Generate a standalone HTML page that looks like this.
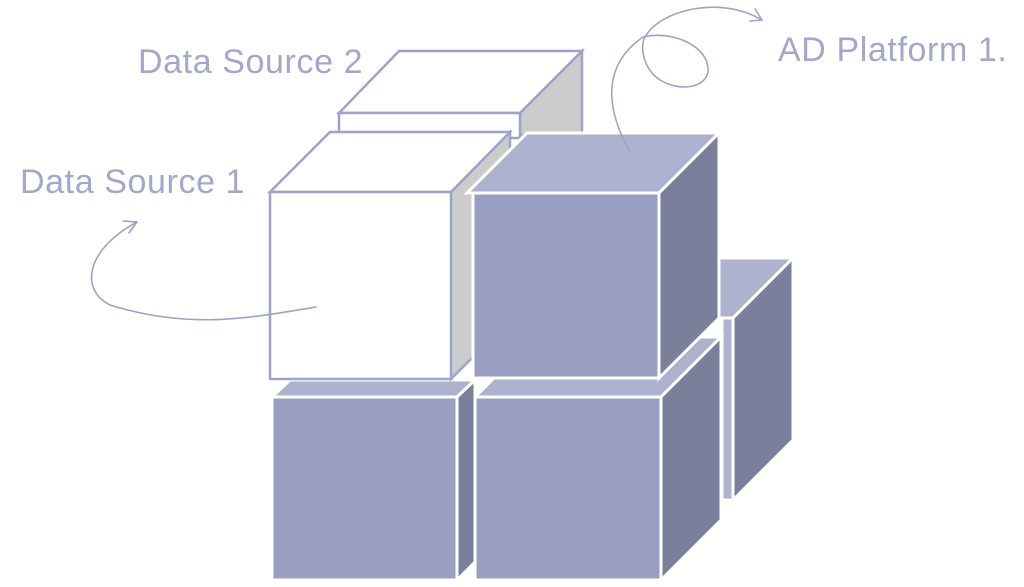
<!DOCTYPE html>
<html><head><meta charset="utf-8"><style>
html,body{margin:0;padding:0;background:#fff;width:1024px;height:587px;overflow:hidden}
svg{display:block}
text{font-family:"Liberation Sans",sans-serif;fill:#a3a8cb;font-size:34px;letter-spacing:0.6px}
</style></head><body>
<svg width="1024" height="587" viewBox="0 0 1024 587">
<g stroke="#fff" stroke-width="3" stroke-linejoin="miter">
<!-- back right low cube -->
<polygon points="600,318 660,258 793,258 733,318" fill="#adb2cf"/>
<polygon points="722,318 722,500 733,500 733,318" fill="#adb2cf"/>
<polygon points="733,318 793,258 793,440 733,500" fill="#7a7f9c"/>
<!-- bottom right cube -->
<polygon points="475,397 535,337 721,337 661,397" fill="#adb2cf"/>
<polygon points="661,397 721,337 721,520 661,580" fill="#7a7f9c"/>
<rect x="475" y="397" width="186" height="183" fill="#989fc2"/>
<!-- bottom left cube -->
<polygon points="272,397 290,380 475,380 457,397" fill="#adb2cf"/>
<polygon points="457,397 475,380 475,562 457,580" fill="#7a7f9c"/>
<rect x="272" y="397" width="185" height="183" fill="#989fc2"/>
</g>
<!-- data source 2 back cube -->
<g stroke="#9ea4c8" stroke-width="2.5" stroke-linejoin="miter">
<polygon points="520,113 582,51 582,135 520,135" fill="#cccccc"/>
<polygon points="339,113 399,51 582,51 520,113" fill="#fff"/>
<rect x="339" y="113" width="181" height="25" fill="#fff"/>
<!-- data source 1 front cube -->
<polygon points="451,192 510,132 510,320 451,379" fill="#cccccc"/>
<polygon points="270,192 330,132 510,132 451,192" fill="#fff"/>
<rect x="270" y="192" width="181" height="187" fill="#fff"/>
</g>
<g stroke="#fff" stroke-width="3">
<!-- top right purple cube -->
<polygon points="467,193 527,133 719,133 659,193" fill="#adb2cf"/>
<polygon points="659,193 719,133 719,318 659,378" fill="#7a7f9c"/>
<rect x="473" y="193" width="186" height="185" fill="#989fc2"/>
</g>
<!-- curves -->
<g fill="none" stroke="#9ea4c8" stroke-width="1.6" stroke-linecap="round">
<path d="M630,152 C612,120 595,70 643,37 C670,30 710,45 708,72 C705,88 680,92 660,80 C642,68 640,45 645,37 C660,10 720,-5 762,20"/>
<path d="M762,20 L750,21 M762,20 L755,9"/>
<path d="M316,307 C250,318 190,330 110,305 C80,290 85,250 137,222"/>
<path d="M137,222 L123,221 M137,222 L129,233"/>
</g>
<text x="138" y="73">Data Source 2</text>
<text x="20" y="193">Data Source 1</text>
<text x="778" y="61">AD Platform 1.</text>
</svg>
</body></html>
